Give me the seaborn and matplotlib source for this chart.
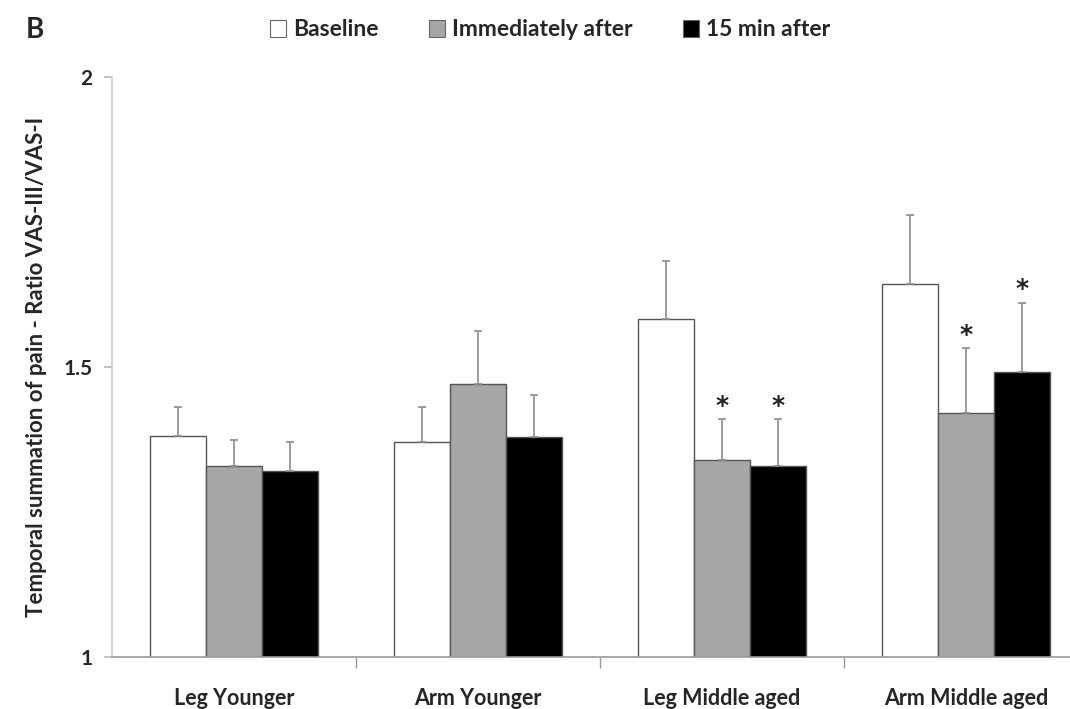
import matplotlib
matplotlib.use("Agg")
import matplotlib.pyplot as plt
import seaborn as sns
import pandas as pd
import numpy as np
from matplotlib.patches import Patch

categories = ["Leg Younger", "Arm Younger", "Leg Middle aged", "Arm Middle aged"]
conditions = ["Baseline", "Immediately after", "15 min after"]
baseline = [1.381, 1.371, 1.583, 1.643]
immediately = [1.330, 1.471, 1.340, 1.420]
min15 = [1.321, 1.380, 1.330, 1.491]
baseline_err = [0.050, 0.060, 0.099, 0.119]
immediately_err = [0.045, 0.091, 0.070, 0.112]
min15_err = [0.049, 0.071, 0.080, 0.120]
significant_immediately = [False, False, True, True]
significant_min15 = [False, False, True, True]
colors = ["#ffffff", "#a6a6a6", "#000000"]

sns.set_theme(style="white")
plt.rcParams["font.family"] = ["Lato", "DejaVu Sans"]

rows = []
for series, vals in zip(conditions, [baseline, immediately, min15]):
    for c, v in zip(categories, vals):
        rows.append({"Group": c, "Condition": series, "Value": v})
df = pd.DataFrame(rows)

fig = plt.figure(figsize=(10.7, 7.09), dpi=100)
ax = fig.add_axes([112 / 1070, 52 / 709, 958 / 1070, 580 / 709])

sns.barplot(data=df, x="Group", y="Value", hue="Condition", order=categories,
            hue_order=conditions, palette=colors, width=0.69, gap=0,
            edgecolor="#555555", linewidth=1.0, errorbar=None, ax=ax,
            legend=False)

errs = [baseline_err, immediately_err, min15_err]
vals_all = [baseline, immediately, min15]
sigs = [[False] * 4, significant_immediately, significant_min15]
for cont, vals, er, sg in zip(ax.containers, vals_all, errs, sigs):
    xs = [p.get_x() + p.get_width() / 2 for p in cont.patches]
    ax.errorbar(xs, vals, yerr=[np.zeros(len(er)), er], fmt="none",
                ecolor="#8c8c8c", elinewidth=1.2, capsize=3, capthick=1.2,
                zorder=1)
    for x, v, e, s in zip(xs, vals, er, sg):
        if s:
            ax.annotate("*", (x, v + e), xytext=(0, 1), textcoords="offset points",
                        ha="center", va="bottom", fontsize=18, fontweight="bold",
                        family="DejaVu Sans", color="#222222")

ax.set_ylim(1, 2)
ax.set_yticks([1, 1.5, 2])
ax.set_yticklabels(["1", "1.5", "2"], fontsize=15, fontweight="bold")
ax.set_xlim(-0.5, -0.5 + 958 / 244)
ax.set_xticks([0, 1, 2, 3])
ax.set_xticklabels(categories, fontsize=15.5, fontweight="bold")
ax.tick_params(axis="x", length=0, pad=22)
ax.set_xticks([0.5, 1.5, 2.5], minor=True)
ax.tick_params(axis="x", which="minor", length=8, color="#999999", direction="out", bottom=True)
ax.tick_params(axis="y", length=6, color="#bbbbbb", direction="out", left=True, pad=8)
ax.set_xlabel("")
ax.set_ylabel("Temporal summation of pain - Ratio VAS-III/VAS-I", fontsize=16,
              fontweight="bold", labelpad=12)
for s in ["top", "right"]:
    ax.spines[s].set_visible(False)
ax.spines["left"].set_color("#cccccc")
ax.spines["left"].set_linewidth(1.2)
ax.spines["bottom"].set_color("#999999")
ax.spines["bottom"].set_linewidth(1.2)

handles = [Patch(facecolor=c, edgecolor="#666666", linewidth=0.8) for c in colors]
fig.legend(handles, conditions, loc="center", bbox_to_anchor=(550 / 1070, 1 - 30 / 709),
           ncol=3, frameon=False, prop={"size": 16.5, "weight": "bold"},
           handlelength=0.7, handleheight=0.7, handletextpad=0.3, columnspacing=2.2)

fig.text(26 / 1070, 1 - 30 / 709, "B", fontsize=20, fontweight="bold", va="center", ha="left")

fig.savefig("out.png", dpi=100)
